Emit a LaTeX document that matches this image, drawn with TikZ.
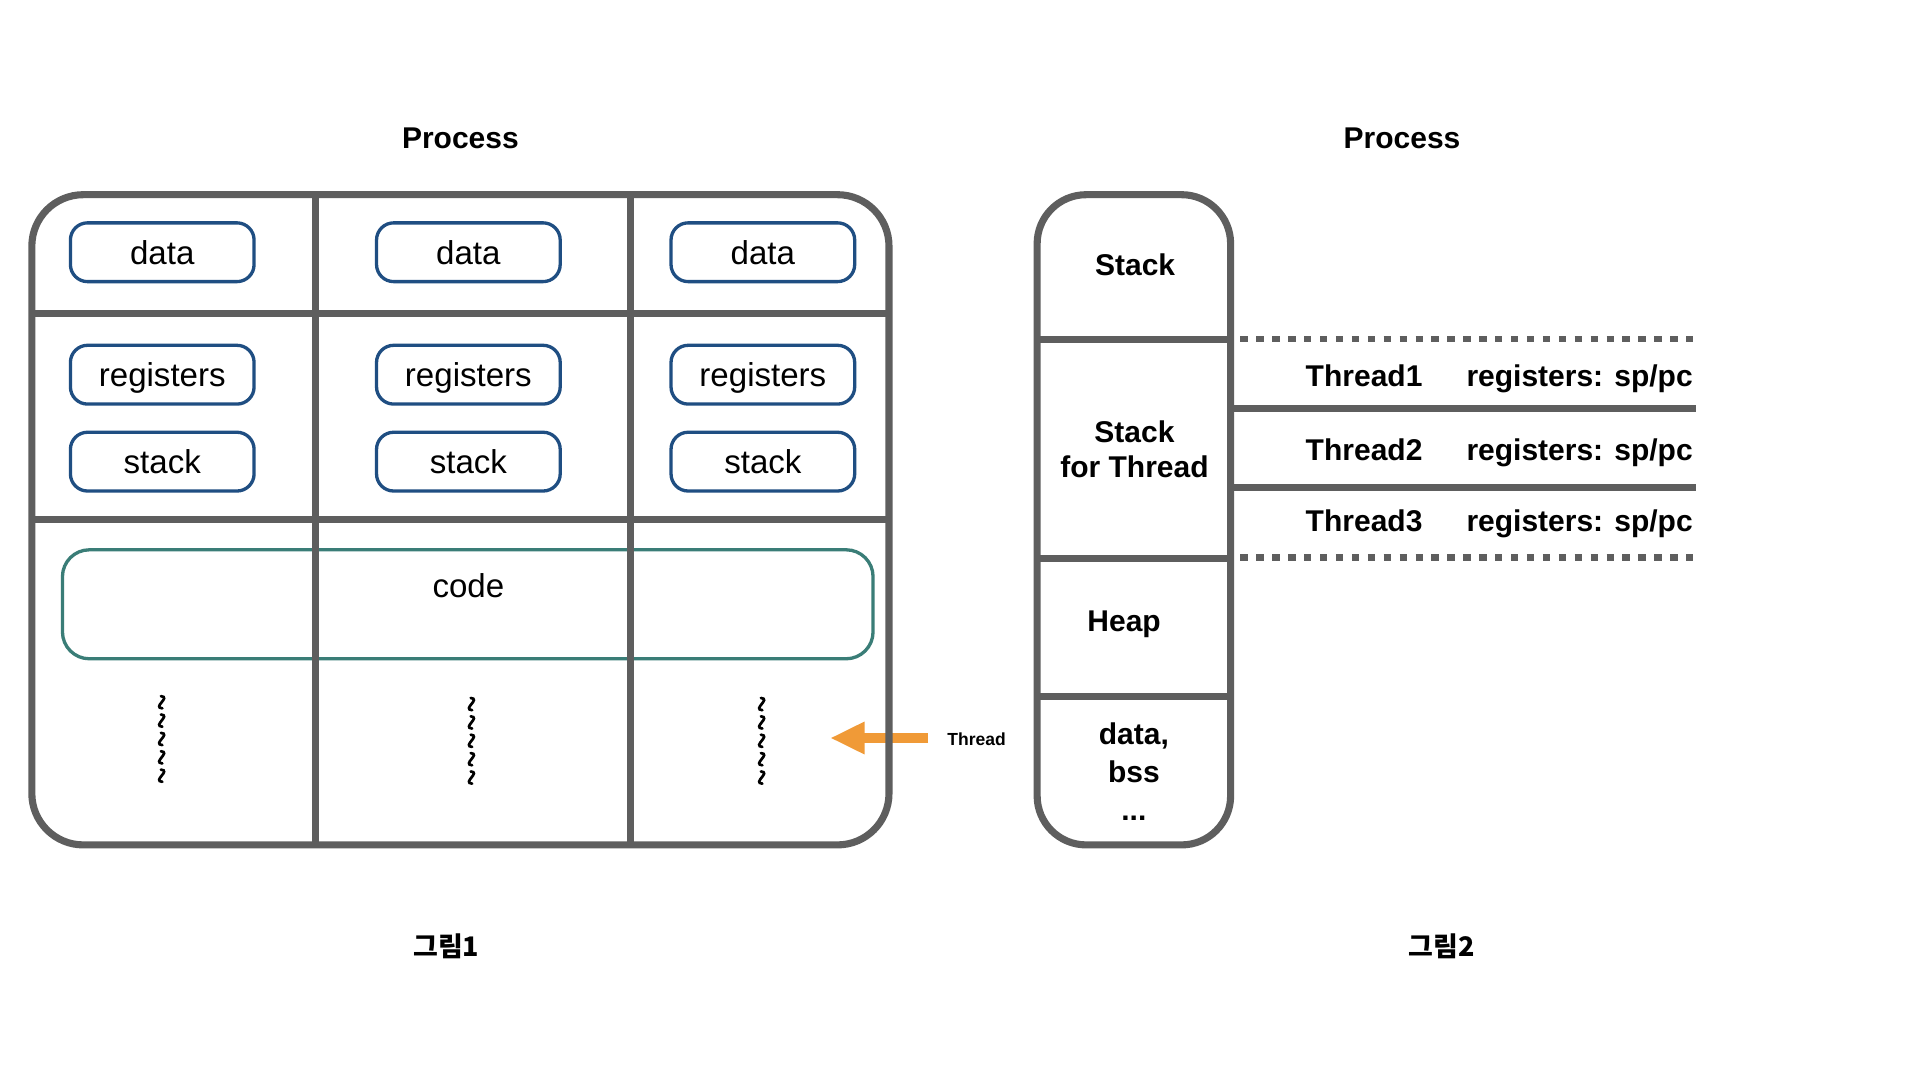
\documentclass[tikz,border=0pt]{standalone}
\usepackage{fontspec}
\setmainfont{Liberation Sans}
\newfontfamily\krfont{Noto Sans CJK KR}
\usetikzlibrary{arrows.meta}
\definecolor{lgray}{HTML}{5E5E5E}
\definecolor{cblue}{HTML}{1F4E82}
\definecolor{cteal}{HTML}{3A7D77}
\definecolor{corange}{HTML}{F09A37}
\begin{document}
\begin{tikzpicture}[x=1pt,y=-1pt,
  frame/.style={draw=lgray, line width=5.8pt, inner sep=0pt, outer sep=0pt},
  divider/.style={draw=lgray, line width=5.8pt},
  dotline/.style={draw=lgray, line width=5.4pt, dash pattern=on 6pt off 7pt},
  cell/.style={draw=cblue, line width=2.7pt, rounded corners=14pt,
    minimum width=150pt, minimum height=48pt, inner sep=0pt, outer sep=0pt,
    font=\fontsize{27}{32}\selectfont, text height=19.3pt, text depth=0pt},
  codebox/.style={draw=cteal, line width=2.7pt, rounded corners=22pt,
    minimum width=662pt, minimum height=89pt, inner sep=0pt, outer sep=0pt},
  lbl/.style={font=\fontsize{24.5}{29}\selectfont\bfseries, anchor=base, inner sep=0pt},
  reg/.style={font=\fontsize{27}{32}\selectfont, anchor=base, inner sep=0pt},
  small/.style={font=\fontsize{14.3}{17}\selectfont\bfseries, anchor=base, inner sep=0pt},
  kr/.style={font=\fontsize{22}{26}\selectfont\krfont\bfseries, anchor=base, inner sep=0pt},
  squig/.style={draw=black, line width=2.2pt, line cap=round}
]
\fill[white] (0,0) rectangle (1568,882);

% titles
\node[lbl] (title1) at (376,121) {Process};
\node[lbl] (title2) at (1145,121) {Process};

% ---------- figure 1 ----------
\node[codebox] (code) at (382,493.5) {};
\node[reg] (codetxt) at (382.5,488) {code};

% thread arrow
\coordinate (arrS) at (758,602.7);
\coordinate (arrT) at (678,602.7);
\draw[draw=corange, line width=8.2pt, -{Triangle[length=28pt,width=24.6pt]}] (arrS) -- (arrT);
\node[small] (thr) at (797.5,609) {Thread};

% outer frame and dividers
\node[frame, rounded corners=42pt, minimum width=700pt, minimum height=531pt] (p1) at (376,424.5) {};
\draw[divider] (258,159) -- (258,690);
\draw[divider] (515,159) -- (515,690);
\draw[divider] (26,256) -- (726,256);
\draw[divider] (26,424) -- (726,424);

% cells
\foreach \cx/\nm in {132.5/a,382.5/b,623/c}{
  \node[cell] (data\nm) at (\cx,206) {data};
  \node[cell] (reg\nm) at (\cx,306) {registers};
  \node[cell] (stk\nm) at (\cx,377) {stack};
}

% squiggles (vertical tildes)
\foreach \sx/\sy in {132/568.5,385/570,622/570}{
  \foreach \k in {0,...,4}{
    \draw[squig] (\sx-0.6,\sy+15*\k) .. controls (\sx+8,\sy+15*\k+0.8) and (\sx-8,\sy+15*\k+9.2) .. (\sx+0.6,\sy+15*\k+10);
  }
}

\node[kr] (fig1) at (364.5,781.5) {그림1};

% ---------- figure 2 ----------
\draw[dotline] (1013,277) -- (1387,277);
\draw[dotline] (1013,455.5) -- (1383,455.5);
\draw[divider] (1005,333.5) -- (1385,333.5);
\draw[divider] (1005,398) -- (1385,398);

\node[frame, rounded corners=40pt, minimum width=158pt, minimum height=531pt] (p2) at (926,424.5) {};
\draw[divider] (847,277) -- (1005,277);
\draw[divider] (847,456) -- (1005,456);
\draw[divider] (847,569) -- (1005,569);

\node[lbl] (sstack) at (927,225) {Stack};
\node[lbl] (sft1) at (926.5,361) {Stack};
\node[lbl] (sft2) at (926.5,390) {for Thread};
\node[lbl] (heap) at (918,516) {Heap};
\node[lbl] (dat1) at (926,608) {data,};
\node[lbl] (dat2) at (926,639) {bss};
\node[lbl] (dat3) at (926,670) {...};

\node[lbl] (th1) at (1114,316) {Thread1};
\node[lbl] (rg1) at (1290,316) {registers: sp/pc};
\node[lbl] (th2) at (1114,376) {Thread2};
\node[lbl] (rg2) at (1290,376) {registers: sp/pc};
\node[lbl] (th3) at (1114,434) {Thread3};
\node[lbl] (rg3) at (1290,434) {registers: sp/pc};

\node[kr] (fig2) at (1177.5,781.5) {그림2};
\end{tikzpicture}
\end{document}
